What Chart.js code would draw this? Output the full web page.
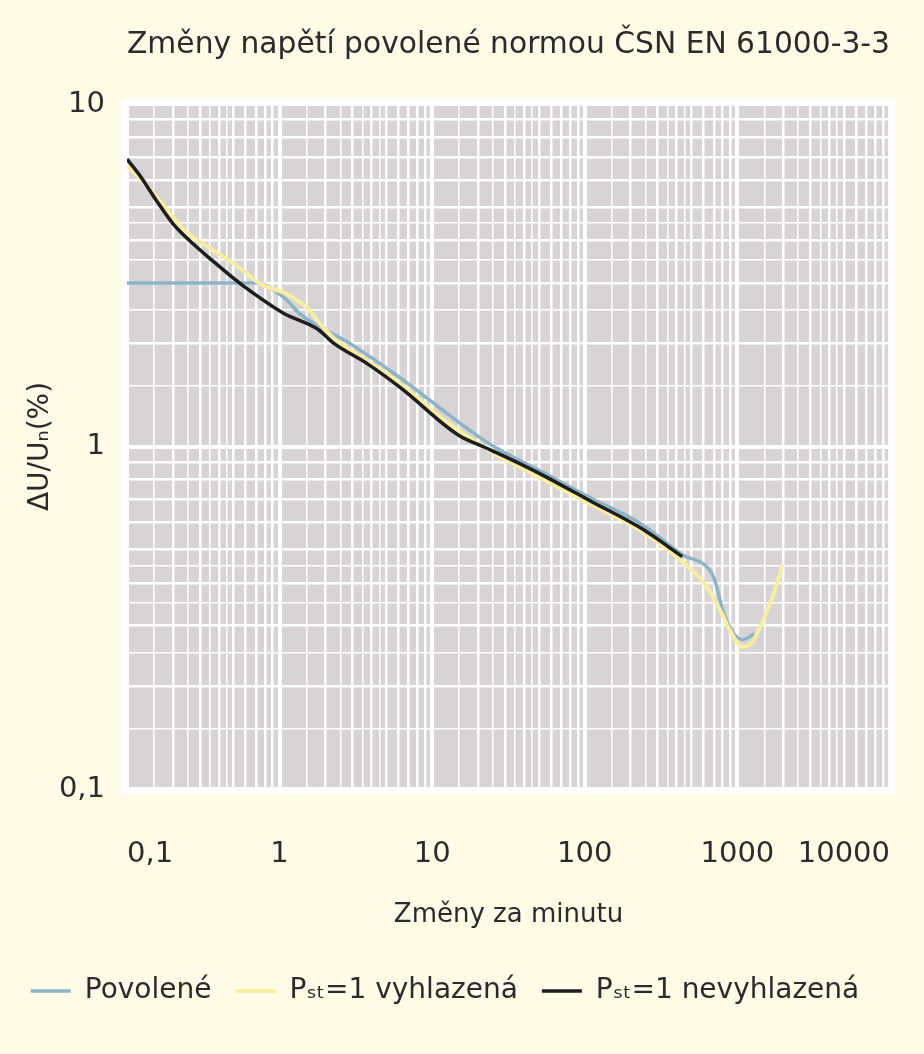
<!DOCTYPE html>
<html>
<head>
<meta charset="utf-8">
<script src="https://cdn.jsdelivr.net/npm/chart.js@4.4.0/dist/chart.umd.min.js"></script>
<style>
  body { margin: 0; background: #fefbe6; }
</style>
</head>
<body>
<canvas id="chart" width="924" height="1054"></canvas>
<script>
// decade ticks and their labels
const xDecades = [0.1, 1, 10, 100, 1000, 10000];
const xDecadeLabels = ['0,1', '1', '10', '100', '1000', '10000'];
const yDecades = [0.1, 1, 10];
const yDecadeLabels = ['0,1', '1', '10'];
// grid steps inside one decade (the halves get a thinner line)
const gridSteps = [1, 1.5, 2, 2.5, 3, 3.5, 4, 4.5, 5, 6, 7, 8, 9];

// Povolené (allowed by the standard)
const povoleneX = [0.1, 0.695, 1.06, 1.37, 2.93, 6.25, 14.8, 24.4, 52.1, 111, 237, 435, 655, 716, 796, 927, 1079, 1294];
const povoleneY = [3.0, 3.0, 2.73, 2.43, 1.99, 1.58, 1.18, 1.01, 0.845, 0.705, 0.592, 0.483, 0.437, 0.403, 0.336, 0.288, 0.273, 0.284];

// Pst = 1 vyhlazená (smoothed)
const vyhlazenaX = [0.1, 0.127, 0.165, 0.248, 0.352, 0.554, 0.75, 1.13, 1.53, 1.86, 2.27, 3.79, 6.25, 11.5, 24.4, 52.1, 111, 237, 435, 616, 762, 927, 1079, 1256, 1528, 1778, 1977];
const vyhlazenaY = [6.59, 5.95, 5.2, 4.2, 3.79, 3.31, 2.98, 2.78, 2.53, 2.27, 2.07, 1.77, 1.52, 1.21, 0.966, 0.806, 0.676, 0.564, 0.461, 0.395, 0.336, 0.282, 0.26, 0.269, 0.323, 0.385, 0.452];

// Pst = 1 nevyhlazená (not smoothed)
const nevyhlazenaX = [0.1, 0.122, 0.157, 0.201, 0.272, 0.368, 0.498, 0.58, 1.06, 1.78, 2.27, 3.79, 6.25, 14.8, 22, 28.4, 52.1, 111, 237, 435];
const nevyhlazenaY = [6.9, 6.16, 5.2, 4.46, 3.9, 3.47, 3.1, 2.94, 2.45, 2.2, 2.0, 1.74, 1.48, 1.08, 0.995, 0.945, 0.828, 0.69, 0.575, 0.477];

function toPoints(xs, ys) {
    return xs.map((x, i) => ({ x: x, y: ys[i] }));
}

function isDecade(list, value) {
    return list.findIndex(d => Math.abs(d - value) < d * 1e-6);
}

function gridTicks(decades) {
    const ticks = [];
    decades.forEach((d, i) => {
        if (i === decades.length - 1) {
            ticks.push({ value: d });
            return;
        }
        gridSteps.forEach(s => ticks.push({ value: d * s }));
    });
    return ticks;
}

function gridWidth(decades, value) {
    if (isDecade(decades, value) >= 0) return 4;
    const lead = value / Math.pow(10, Math.floor(Math.log10(value) + 1e-9));
    return Math.abs(lead - Math.round(lead)) > 0.01 ? 1.5 : 2.5;
}

const textColor = '#2b2b2b';
Chart.defaults.font.family = '"DejaVu Sans", sans-serif';
Chart.defaults.color = textColor;

const plotBackground = {
    id: 'plotBackground',
    beforeDraw(chart) {
        const { ctx, chartArea: a } = chart;
        ctx.save();
        ctx.fillStyle = '#fefbe6';
        ctx.fillRect(0, 0, chart.width, chart.height);
        ctx.fillStyle = '#d8d3d4';
        ctx.fillRect(a.left, a.top, a.right - a.left, a.bottom - a.top);
        ctx.strokeStyle = '#ffffff';
        ctx.lineWidth = 6;
        ctx.strokeRect(a.left - 2, a.top - 2, a.right - a.left + 4, a.bottom - a.top + 4);
        ctx.restore();
    }
};

const element = document.getElementById('chart');

const chart = new Chart(element, {
    type: 'line',
    data: {
        datasets: [
            {
                label: 'Povolené',
                data: toPoints(povoleneX, povoleneY),
                borderColor: '#8db4c6',
                backgroundColor: '#8db4c6',
                borderWidth: 3.5,
                pointRadius: 0,
                cubicInterpolationMode: 'monotone',
                order: 2
            },
            {
                label: 'P\u209B\u209C=1 vyhlazená',
                data: toPoints(vyhlazenaX, vyhlazenaY),
                borderColor: '#f6eea2',
                backgroundColor: '#f6eea2',
                borderWidth: 4,
                pointRadius: 0,
                cubicInterpolationMode: 'monotone',
                order: 1
            },
            {
                label: 'P\u209B\u209C=1 nevyhlazená',
                data: toPoints(nevyhlazenaX, nevyhlazenaY),
                borderColor: '#1e1e1e',
                backgroundColor: '#1e1e1e',
                borderWidth: 3.5,
                pointRadius: 0,
                cubicInterpolationMode: 'monotone',
                order: 0
            }
        ]
    },
    options: {
        responsive: false,
        animation: false,
        layout: { padding: { left: 0, right: 34, top: 0, bottom: 39 } },
        plugins: {
            title: {
                display: true,
                text: 'Změny napětí povolené normou ČSN EN 61000-3-3',
                fullSize: false,
                font: { size: 30, weight: 'normal' },
                color: textColor,
                padding: { top: 27, bottom: 41 }
            },
            legend: {
                position: 'bottom',
                labels: {
                    sort: (a, b) => a.datasetIndex - b.datasetIndex,
                    usePointStyle: true,
                    pointStyle: 'line',
                    pointStyleWidth: 40,
                    padding: 24,
                    font: { size: 28 },
                    color: textColor
                }
            },
            tooltip: { enabled: false }
        },
        scales: {
            x: {
                type: 'logarithmic',
                min: 0.1,
                max: 10000,
                afterBuildTicks(scale) {
                    scale.ticks = gridTicks(xDecades);
                },
                afterFit(scale) {
                    scale.height = 164;
                    scale.paddingLeft = 0;
                    scale.paddingRight = 0;
                },
                border: { display: false },
                grid: {
                    color: '#ffffff',
                    drawTicks: false,
                    lineWidth: ctx => gridWidth(xDecades, ctx.tick.value)
                },
                ticks: {
                    autoSkip: false,
                    maxRotation: 0,
                    align: 'inner',
                    padding: 48,
                    font: { size: 29 },
                    callback: value => {
                        const i = isDecade(xDecades, value);
                        return i >= 0 ? xDecadeLabels[i] : '';
                    }
                },
                title: {
                    display: true,
                    text: 'Změny za minutu',
                    font: { size: 26 },
                    padding: { top: 0, bottom: 22 }
                }
            },
            y: {
                type: 'logarithmic',
                min: 0.1,
                max: 10,
                afterBuildTicks(scale) {
                    scale.ticks = gridTicks(yDecades);
                },
                afterFit(scale) {
                    scale.width = 127;
                    scale.paddingTop = 0;
                    scale.paddingBottom = 0;
                },
                border: { display: false },
                grid: {
                    color: '#ffffff',
                    drawTicks: false,
                    lineWidth: ctx => gridWidth(yDecades, ctx.tick.value)
                },
                ticks: {
                    autoSkip: false,
                    padding: 22,
                    font: { size: 29 },
                    callback: value => {
                        const i = isDecade(yDecades, value);
                        return i >= 0 ? yDecadeLabels[i] : '';
                    }
                },
                title: {
                    display: true,
                    text: 'ΔU/U\u2099(%)',
                    font: { size: 28 },
                    padding: { top: 24, bottom: 0 }
                }
            }
        }
    },
    plugins: [plotBackground]
});
</script>
</body>
</html>
